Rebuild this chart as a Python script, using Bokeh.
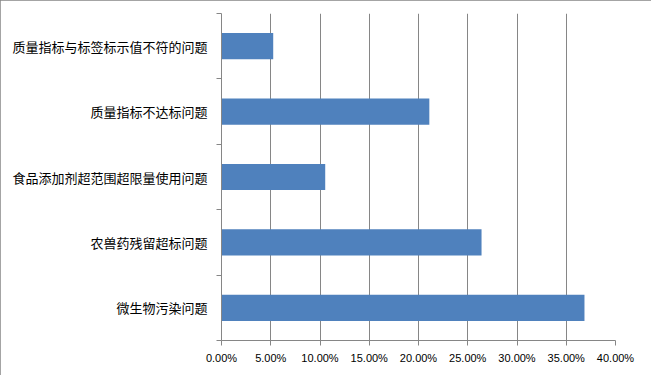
from bokeh.plotting import figure
from bokeh.models import FixedTicker, NumeralTickFormatter, Range1d, ColumnDataSource
from bokeh.embed import file_html
from bokeh.resources import INLINE

# categories listed top to bottom as in the chart
categories = ["质量指标与标签标示值不符的问题", "质量指标不达标问题", "食品添加剂超范围超限量使用问题",
              "农兽药残留超标问题", "微生物污染问题"]
values = [0.0525, 0.2110, 0.1053, 0.2640, 0.3685]
x_ticks = [0.0, 0.05, 0.10, 0.15, 0.20, 0.25, 0.30, 0.35, 0.40]

n = len(categories)
ypos = [n - 0.5 - i for i in range(n)]
src = ColumnDataSource(dict(y=ypos, v=values, cat=categories))

p = figure(frame_width=394, frame_height=327, output_backend="svg", toolbar_location=None,
           x_range=Range1d(0, 0.40), y_range=Range1d(0, n),
           min_border_left=221, min_border_right=36, min_border_top=13, min_border_bottom=35)
p.outline_line_color = None
p.background_fill_color = "white"
p.border_fill_color = "white"
p.styles = {"outline": "1px solid #868686", "outline-offset": "-1px"}

p.hbar(y="y", right="v", left=0, height=0.4, source=src, color="#4F81BD", line_color=None)

gray = "#868686"
# x axis
p.xaxis.ticker = FixedTicker(ticks=x_ticks, minor_ticks=[])
p.xaxis.formatter = NumeralTickFormatter(format="0.00%")
p.xaxis.axis_line_color = gray
p.xaxis.major_tick_line_color = gray
p.xaxis.major_tick_out = 5
p.xaxis.major_tick_in = 0
p.xaxis.major_label_standoff = 6
p.xaxis.major_label_text_font = "Liberation Sans"
p.xaxis.major_label_text_font_size = "11px"
p.xaxis.major_label_text_color = "#000000"

# y axis: labels at centres, ticks at boundaries
p.yaxis.ticker = FixedTicker(ticks=ypos, minor_ticks=list(range(n + 1)))
p.yaxis.major_label_overrides = {y: c for y, c in zip(ypos, categories)}
p.yaxis.axis_line_color = gray
p.yaxis.major_tick_line_color = None
p.yaxis.major_tick_out = 0
p.yaxis.major_tick_in = 0
p.yaxis.minor_tick_line_color = gray
p.yaxis.minor_tick_out = 5
p.yaxis.minor_tick_in = 0
p.yaxis.major_label_standoff = 9
p.yaxis.major_label_text_font = "Noto Sans CJK SC"
p.yaxis.major_label_text_font_size = "13px"
p.yaxis.major_label_text_color = "#000000"

p.xgrid.ticker = FixedTicker(ticks=x_ticks)
p.xgrid.grid_line_color = gray
p.xgrid.grid_line_width = 1
p.ygrid.grid_line_color = None

open("out.html", "w").write(file_html(p, INLINE))
